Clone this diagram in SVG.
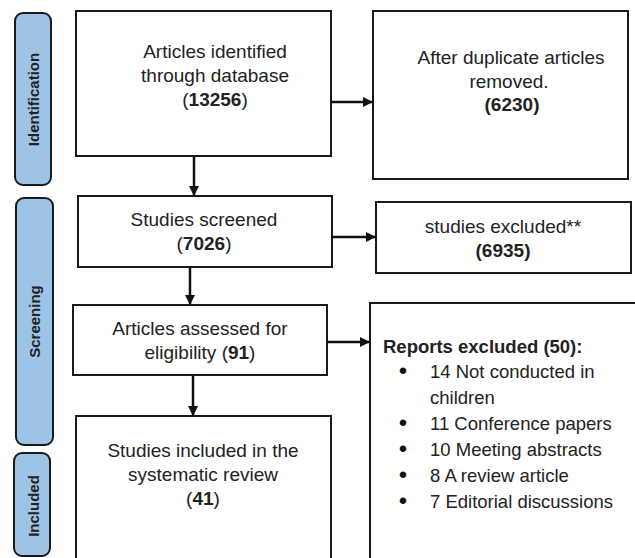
<svg xmlns="http://www.w3.org/2000/svg" width="635" height="558" viewBox="0 0 635 558">
<defs>
<style>
.box{fill:#fff;stroke:#1a1a1a;stroke-width:2}
.side{fill:#9dc3e6;stroke:#1a1a1a;stroke-width:2}
.t{font-family:"Liberation Sans",Arial,sans-serif;font-size:19px;fill:#222;text-anchor:middle}
.l{font-family:"Liberation Sans",Arial,sans-serif;font-size:18.5px;fill:#222}
.bu{font-family:"Liberation Sans",Arial,sans-serif;font-size:24px;fill:#111;text-anchor:middle}
.s{font-family:"Liberation Sans",Arial,sans-serif;font-size:15px;font-weight:bold;fill:#222;text-anchor:middle}
.b{font-weight:bold}
.c{stroke:#111;stroke-width:2.5;fill:none}
</style>
<marker id="ah" viewBox="0 0 10 10" refX="10" refY="5" markerWidth="4" markerHeight="4" markerUnits="strokeWidth" orient="auto">
<path d="M0,0 L10,5 L0,10 z" fill="#111"/>
</marker>
</defs>
<rect width="635" height="558" fill="#fff"/>

<g id="side-identification">
<rect class="side" x="15" y="13" width="36" height="172" rx="8"/>
<text class="s" transform="translate(39,99.5) rotate(-90)">Identification</text>
</g>
<g id="side-screening">
<rect class="side" x="16" y="198" width="37" height="247" rx="8"/>
<text class="s" transform="translate(40,321.5) rotate(-90)">Screening</text>
</g>
<g id="side-included">
<rect class="side" x="14" y="453" width="36" height="103" rx="8"/>
<text class="s" transform="translate(38.5,506) rotate(-90)">Included</text>
</g>

<g id="n-identified">
<rect class="box" x="76" y="11" width="255" height="145"/>
<text class="t" x="215" y="58">Articles identified</text>
<text class="t" x="215" y="82">through database</text>
<text class="t" x="215" y="106">(<tspan class="b">13256</tspan>)</text>
</g>
<g id="n-duplicates">
<rect class="box" x="373" y="11" width="255" height="168"/>
<text class="t" x="511" y="64">After duplicate articles</text>
<text class="t" x="509" y="88">removed.</text>
<text class="t b" x="512" y="111">(6230)</text>
</g>
<g id="n-screened">
<rect class="box" x="78" y="196" width="254" height="71"/>
<text class="t" x="204" y="226">Studies screened</text>
<text class="t" x="204" y="250">(<tspan class="b">7026</tspan>)</text>
</g>
<g id="n-excluded">
<rect class="box" x="376" y="202" width="255" height="71"/>
<text class="t" x="503" y="233">studies excluded**</text>
<text class="t b" x="503" y="257">(6935)</text>
</g>
<g id="n-assessed">
<rect class="box" x="73" y="305" width="254" height="70"/>
<text class="t" x="200" y="335">Articles assessed for</text>
<text class="t" x="200" y="359">eligibility (<tspan class="b">91</tspan>)</text>
</g>
<g id="n-reports">
<rect class="box" x="370" y="303" width="275" height="265"/>
<text class="l b" x="383" y="353" font-size="17.8">Reports excluded (50):</text>
<g class="bu">
<text x="403" y="379">•</text>
<text x="403" y="431">•</text>
<text x="403" y="457">•</text>
<text x="403" y="483">•</text>
<text x="403" y="509">•</text>
</g>
<g class="l">
<text x="430" y="378">14 Not conducted in</text>
<text x="430" y="404">children</text>
<text x="430" y="430">11 Conference papers</text>
<text x="430" y="456">10 Meeting abstracts</text>
<text x="430" y="482">8 A review article</text>
<text x="430" y="508">7 Editorial discussions</text>
</g>
</g>
<g id="n-included">
<rect class="box" x="76" y="416" width="255" height="152"/>
<text class="t" x="203" y="457">Studies included in the</text>
<text class="t" x="203" y="481">systematic review</text>
<text class="t" x="203" y="505">(<tspan class="b">41</tspan>)</text>
</g>

<g id="connectors">
<line class="c" x1="194" y1="157" x2="194" y2="196" marker-end="url(#ah)"/>
<line class="c" x1="331" y1="102" x2="373" y2="102" marker-end="url(#ah)"/>
<line class="c" x1="332" y1="237" x2="376" y2="237" marker-end="url(#ah)"/>
<line class="c" x1="190" y1="268" x2="190" y2="305" marker-end="url(#ah)"/>
<line class="c" x1="327" y1="342" x2="370" y2="342" marker-end="url(#ah)"/>
<line class="c" x1="193" y1="376" x2="193" y2="416" marker-end="url(#ah)"/>
</g>
</svg>
